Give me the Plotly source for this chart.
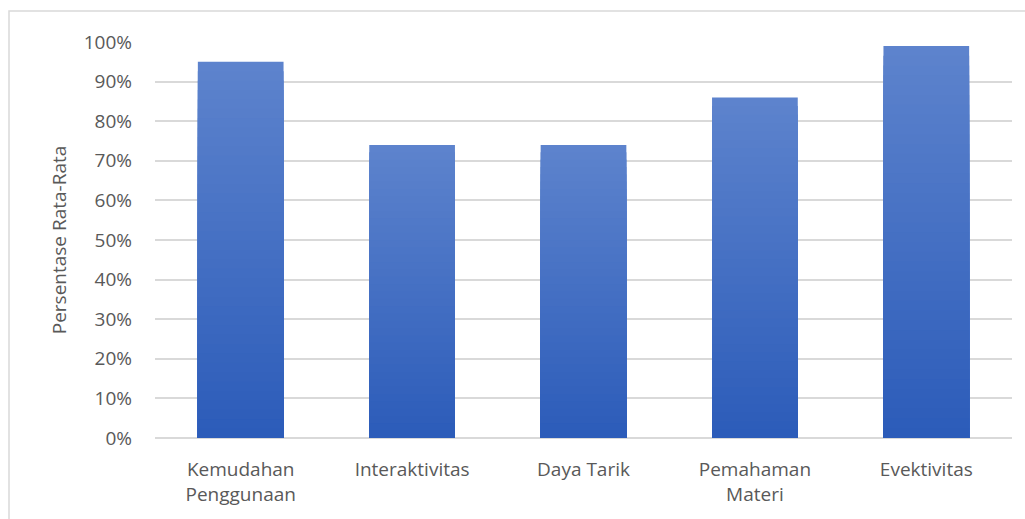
import plotly.graph_objects as go

categories = ["Kemudahan<br>Penggunaan", "Interaktivitas", "Daya Tarik", "Pemahaman<br>Materi", "Evektivitas"]
values = [0.95, 0.74, 0.74, 0.86, 0.99]
tick_vals = [i / 10 for i in range(11)]
tick_text = [f"{i*10}%" for i in range(11)]

top_rgb = (93, 131, 205)
bot_rgb = (44, 92, 185)
N = 40

fig = go.Figure()
for k in range(N):
    f = 1 - k / N
    t = k / (N - 1)
    c = tuple(round(top_rgb[i] + (bot_rgb[i] - top_rgb[i]) * t) for i in range(3))
    fig.add_trace(go.Bar(
        x=categories,
        y=[v * f for v in values],
        marker=dict(color=f"rgb{c}", line=dict(width=0)),
        width=0.5,
        showlegend=False,
        hoverinfo="skip",
    ))

fig.update_layout(
    barmode="overlay",
    width=1025, height=519,
    margin=dict(l=155, r=13, t=42, b=81),
    paper_bgcolor="white", plot_bgcolor="white",
    font=dict(family="Open Sans", size=19, color="#595959"),
    shapes=[dict(type="rect", xref="paper", yref="paper",
                 x0=-146/857, x1=1.2, y0=-1, y1=1 + 31/396,
                 line=dict(color="#D9D9D9", width=1.5), fillcolor="rgba(0,0,0,0)", layer="below")],
)
fig.update_yaxes(
    range=[0, 1], tickvals=tick_vals, ticktext=tick_text,
    showgrid=True, gridcolor="#D9D9D9", gridwidth=1.5,
    zeroline=True, zerolinecolor="#D9D9D9", zerolinewidth=1.5,
    showline=False, ticks="", ticklabelstandoff=22,
    title=dict(text="Persentase Rata-Rata", standoff=12, font=dict(size=19, color="#595959")),
)
fig.update_xaxes(showgrid=False, showline=False, ticks="", ticklabelstandoff=18,
                 tickfont=dict(size=19, color="#595959"))

fig.write_html("out.html")
